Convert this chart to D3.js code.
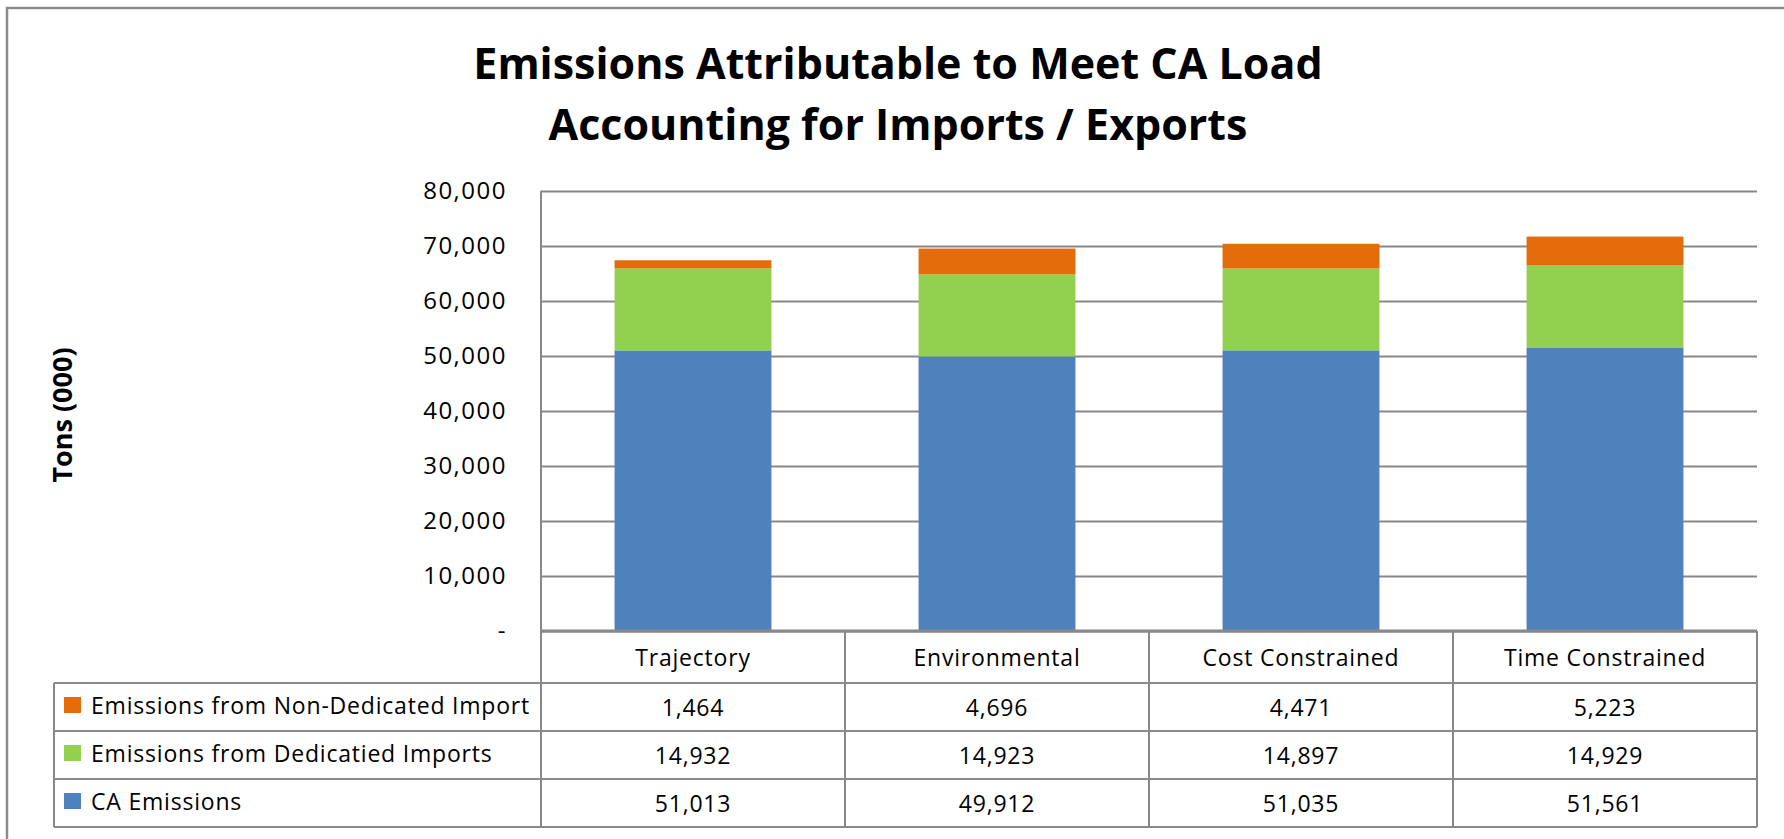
<!DOCTYPE html>
<html>
<head>
<meta charset="UTF-8">
<title>Emissions Attributable to Meet CA Load</title>
<script src="https://cdn.jsdelivr.net/npm/d3@7"></script>
<style>
  body { margin: 0; background: #fff; }
  svg { display: block; font-family: "Open Sans", sans-serif; }
</style>
</head>
<body>
<svg width="1784" height="839"></svg>
<script>
// data
const categories = ["Trajectory", "Environmental", "Cost Constrained", "Time Constrained"];
const caEmissions = [51013, 49912, 51035, 51561];
const dedicatedImports = [14932, 14923, 14897, 14929];
const nonDedicatedImport = [1464, 4696, 4471, 5223];
const seriesNames = ["CA Emissions", "Emissions from Dedicatied Imports", "Emissions from Non-Dedicated Import"];
const seriesColors = ["#4f81bd", "#92d050", "#e46c0a"];
const yTicks = [0, 10000, 20000, 30000, 40000, 50000, 60000, 70000, 80000];
const titleLines = ["Emissions Attributable to Meet CA Load", "Accounting for Imports / Exports"];

const svg = d3.select("svg");
const gridColor = "#888";

const plotLeft = 541, plotRight = 1757, plotTop = 191, plotBottom = 631;

const x = d3.scaleBand()
  .domain(categories)
  .range([plotLeft, plotRight])
  .paddingInner(0.484)
  .paddingOuter(0.242);

const y = d3.scaleLinear().domain([0, 80000]).range([plotBottom, plotTop]);

const color = d3.scaleOrdinal().domain(seriesNames).range(seriesColors);

const rows = categories.map((c, i) => ({
  cat: c,
  [seriesNames[0]]: caEmissions[i],
  [seriesNames[1]]: dedicatedImports[i],
  [seriesNames[2]]: nonDedicatedImport[i]
}));
const stacked = d3.stack().keys(seriesNames)(rows);

// outer frame (only left/top visible)
svg.append("path")
  .attr("d", "M7,845 L7,8 L1790,8")
  .attr("fill", "none")
  .attr("stroke", "#8a8a8a")
  .attr("stroke-width", 2.5);

// title
svg.append("g")
  .selectAll("text")
  .data(titleLines)
  .join("text")
  .attr("x", 898)
  .attr("y", (d, i) => 79 + i * 61)
  .attr("text-anchor", "middle")
  .attr("font-weight", "bold")
  .attr("font-size", 43)
  .attr("fill", "#000")
  .text(d => d);

// y axis label
svg.append("text")
  .attr("transform", "translate(72,415) rotate(-90)")
  .attr("text-anchor", "middle")
  .attr("font-weight", "bold")
  .attr("font-size", 27)
  .text("Tons (000)");

// gridlines + tick labels
const yAxis = svg.append("g")
  .attr("transform", `translate(${plotLeft},0)`)
  .call(d3.axisLeft(y)
    .tickValues(yTicks)
    .tickSize(-(plotRight - plotLeft))
    .tickPadding(34)
    .tickFormat(d => d === 0 ? "-" : d3.format(",")(d)));
yAxis.select(".domain").remove();
yAxis.selectAll(".tick line").attr("stroke", gridColor).attr("stroke-width", 2);
yAxis.selectAll(".tick text")
  .attr("font-size", 24)
  .attr("letter-spacing", 1.5)
  .attr("font-family", "Open Sans, sans-serif")
  .attr("fill", "#000");

// bars
svg.append("g")
  .selectAll("g")
  .data(stacked)
  .join("g")
  .attr("fill", d => color(d.key))
  .selectAll("rect")
  .data(d => d)
  .join("rect")
  .attr("x", d => x(d.data.cat))
  .attr("width", x.bandwidth())
  .attr("y", d => y(d[1]))
  .attr("height", d => y(d[0]) - y(d[1]));

// data table
const tableLeft = 54, headerBottom = 683, tableBottom = 827;
const tableSeries = seriesNames.slice().reverse();
const tableValues = [nonDedicatedImport, dedicatedImports, caEmissions];
const rowY = d3.scaleBand().domain(tableSeries).range([headerBottom, tableBottom]);

const table = svg.append("g")
  .attr("font-size", 23)
  .attr("letter-spacing", 0.8);

// horizontal lines
table.selectAll("line.h")
  .data(tableSeries.map(s => rowY(s) + rowY.bandwidth()).concat([headerBottom]))
  .join("line")
  .attr("class", "h")
  .attr("x1", tableLeft).attr("x2", plotRight)
  .attr("y1", d => d).attr("y2", d => d)
  .attr("stroke", gridColor).attr("stroke-width", 2);

// vertical lines
const colEdges = categories.map(c => x(c) - x.step() * x.paddingInner() / 2).concat([plotRight]);
table.selectAll("line.v")
  .data(colEdges)
  .join("line")
  .attr("class", "v")
  .attr("x1", d => d).attr("x2", d => d)
  .attr("y1", plotBottom).attr("y2", tableBottom)
  .attr("stroke", gridColor).attr("stroke-width", 2);
table.append("line")
  .attr("x1", plotLeft).attr("x2", plotLeft)
  .attr("y1", plotTop).attr("y2", plotBottom)
  .attr("stroke", gridColor).attr("stroke-width", 2);
table.append("line")
  .attr("x1", tableLeft).attr("x2", tableLeft)
  .attr("y1", headerBottom).attr("y2", tableBottom)
  .attr("stroke", gridColor).attr("stroke-width", 2);

// axis baseline
svg.append("line")
  .attr("x1", plotLeft).attr("x2", plotRight)
  .attr("y1", plotBottom).attr("y2", plotBottom)
  .attr("stroke", gridColor).attr("stroke-width", 3);

// header labels
table.selectAll("text.cat")
  .data(categories)
  .join("text")
  .attr("class", "cat")
  .attr("x", d => x(d) + x.bandwidth() / 2)
  .attr("y", 666)
  .attr("text-anchor", "middle")
  .text(d => d);

// legend rows
const legendRow = table.selectAll("g.row")
  .data(tableSeries)
  .join("g")
  .attr("class", "row")
  .attr("transform", d => `translate(0,${rowY(d)})`);

legendRow.append("rect")
  .attr("x", 64).attr("y", 14)
  .attr("width", 17).attr("height", 16)
  .attr("fill", d => color(d));

legendRow.append("text")
  .attr("x", 91).attr("y", 31)
  .text(d => d);

legendRow.each(function(s, r) {
  d3.select(this).selectAll("text.val")
    .data(tableValues[r])
    .join("text")
    .attr("class", "val")
    .attr("x", (d, i) => x(categories[i]) + x.bandwidth() / 2)
    .attr("y", 33)
    .attr("text-anchor", "middle")
    .text(d => d3.format(",")(d));
});
</script>
</body>
</html>
